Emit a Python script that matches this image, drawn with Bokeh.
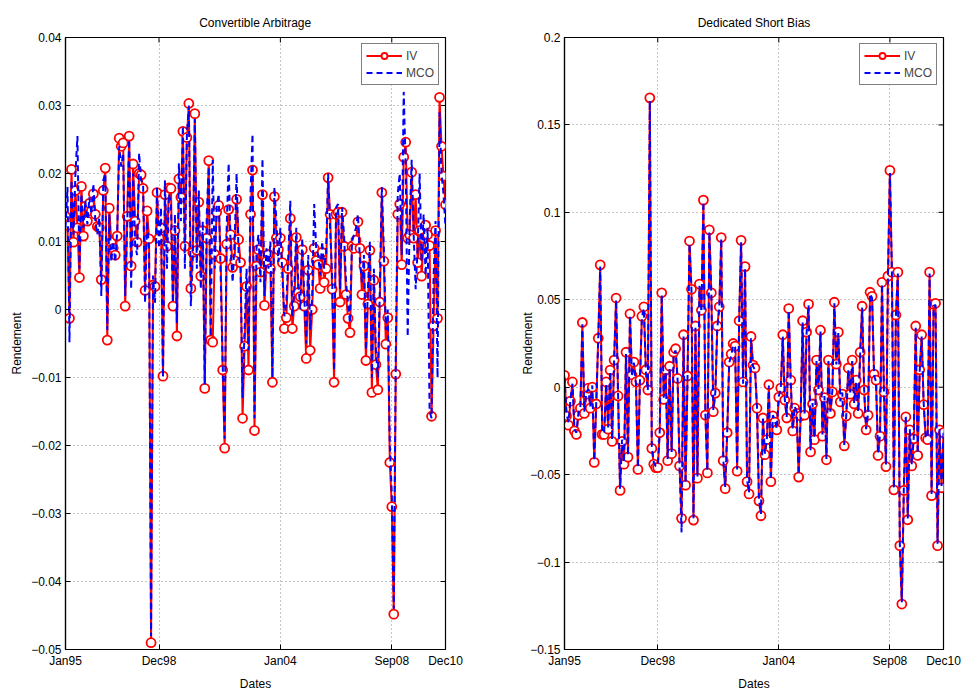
import math
from bokeh.plotting import figure
from bokeh.layouts import row
from bokeh.models import Range1d, FixedTicker, Legend, LegendItem
from bokeh.embed import file_html
from bokeh.resources import INLINE

# ---------------- data ----------------
x_tick_pos = [0, 47, 108, 164, 191]
x_tick_labels = ["Jan95", "Dec98", "Jan04", "Sep08", "Dec10"]

cva_iv = [
    0.0137, 0.0124, -0.0013, 0.0206, 0.0099, 0.0175, 0.0120, 0.0047, 0.0181, 0.0108, 0.0152, 0.0130,
    0.0156, 0.0145, 0.0170, 0.0140, 0.0122, 0.0120, 0.0044, 0.0175, 0.0208, -0.0045, 0.0149, 0.0099,
    0.0090, 0.0080, 0.0108, 0.0252, 0.0240, 0.0245, 0.0005, 0.0137, 0.0255, 0.0064, 0.0214, 0.0130,
    0.0099, 0.0200, 0.0198, 0.0178, 0.0028, 0.0145, 0.0104, -0.0490, 0.0036, 0.0034, 0.0172, 0.0105,
    0.0120, -0.0098, 0.0169, 0.0093, 0.0179, 0.0178, 0.0005, 0.0116, -0.0039, 0.0192, 0.0165, 0.0262,
    0.0093, 0.0253, 0.0303, 0.0031, 0.0084, 0.0288, 0.0087, 0.0158, 0.0049, 0.0116, -0.0116, 0.0105,
    0.0219, -0.0045, -0.0048, 0.0081, 0.0143, 0.0153, 0.0075, -0.0089, -0.0204, 0.0096, 0.0147, 0.0110,
    0.0062, 0.0072, 0.0162, 0.0103, 0.0069, -0.0160, -0.0054, 0.0034, -0.0089, 0.0140, 0.0205, -0.0178,
    0.0064, 0.0088, 0.0055, 0.0169, 0.0006, 0.0071, 0.0081, 0.0060, -0.0107, 0.0166, 0.0105, 0.0088,
    0.0105, 0.0069, -0.0028, -0.0012, 0.0060, 0.0134, -0.0028, 0.0005, 0.0106, 0.0025, 0.0019, 0.0088,
    0.0005, -0.0072, 0.0058, -0.0060, 0.0000, 0.0090, 0.0072, 0.0066, 0.0031, 0.0084, 0.0040, 0.0060,
    0.0194, 0.0140, 0.0030, -0.0107, 0.0140, 0.0143, 0.0011, 0.0143, 0.0093, 0.0022, -0.0013, -0.0034,
    0.0093, 0.0090, 0.0102, 0.0129, 0.0090, 0.0022, 0.0064, -0.0075, 0.0008, 0.0087, -0.0122, 0.0043,
    -0.0081, -0.0118, 0.0011, 0.0172, 0.0071, -0.0051, -0.0012, -0.0225, -0.0290, -0.0448, -0.0095, 0.0140,
    0.0155, 0.0066, 0.0224, 0.0246, 0.0105, 0.0110, 0.0202, 0.0105, 0.0169, 0.0069, 0.0116, 0.0049,
    0.0105, 0.0124, 0.0110, 0.0094, -0.0157, -0.0024, 0.0116, -0.0013, 0.0312, 0.0240, 0.0196, 0.0154,
]

cva_mco = [
    0.0120, 0.0180, -0.0048, 0.0190, 0.0110, 0.0200, 0.0255, 0.0060, 0.0170, 0.0120, 0.0160, 0.0125,
    0.0165, 0.0140, 0.0185, 0.0130, 0.0110, 0.0135, 0.0020, 0.0190, 0.0200, -0.0030, 0.0140, 0.0070,
    0.0100, 0.0070, 0.0115, 0.0240, 0.0210, 0.0230, 0.0020, 0.0120, 0.0250, 0.0030, 0.0200, 0.0095,
    0.0080, 0.0230, 0.0190, 0.0185, 0.0010, 0.0130, 0.0090, -0.0480, 0.0050, 0.0010, 0.0180, 0.0090,
    0.0150, -0.0100, 0.0190, 0.0060, 0.0170, 0.0155, 0.0010, 0.0140, -0.0020, 0.0215, 0.0130, 0.0270,
    0.0060, 0.0255, 0.0300, 0.0005, 0.0080, 0.0280, 0.0060, 0.0175, 0.0030, 0.0130, -0.0110, 0.0140,
    0.0210, -0.0040, 0.0220, 0.0060, 0.0150, 0.0170, 0.0050, -0.0080, -0.0190, 0.0120, 0.0215, 0.0090,
    0.0040, 0.0100, 0.0200, 0.0080, 0.0060, -0.0130, -0.0030, 0.0060, -0.0060, 0.0170, 0.0258, -0.0160,
    0.0090, 0.0110, 0.0040, 0.0222, 0.0020, 0.0090, 0.0060, 0.0100, -0.0100, 0.0180, 0.0130, 0.0070,
    0.0120, 0.0050, -0.0010, 0.0010, 0.0080, 0.0160, -0.0010, 0.0030, 0.0120, 0.0040, 0.0000, 0.0105,
    0.0020, -0.0050, 0.0080, -0.0030, 0.0020, 0.0155, 0.0090, 0.0080, 0.0050, 0.0100, 0.0060, 0.0085,
    0.0200, 0.0120, 0.0050, -0.0090, 0.0150, 0.0155, 0.0030, 0.0150, 0.0110, 0.0040, 0.0010, -0.0020,
    0.0100, 0.0110, 0.0120, 0.0140, 0.0070, 0.0040, 0.0080, -0.0060, 0.0030, 0.0100, -0.0100, 0.0060,
    -0.0060, -0.0100, 0.0030, 0.0180, 0.0090, -0.0030, 0.0000, -0.0200, -0.0270, -0.0440, -0.0070, 0.0170,
    0.0200, 0.0080, 0.0320, 0.0210, -0.0040, 0.0130, 0.0220, 0.0110, 0.0030, 0.0090, 0.0200, 0.0070,
    0.0140, 0.0050, 0.0120, -0.0150, -0.0160, 0.0050, 0.0130, -0.0100, 0.0290, 0.0200, 0.0170, 0.0120,
]

dsb_iv = [
    0.0068, -0.0164, -0.0217, -0.0080, 0.0030, -0.0250, -0.0270, -0.0160, -0.0120, 0.0370, -0.0150, -0.0040,
    -0.0005, -0.0120, 0.0000, -0.0430, -0.0096, 0.0280, 0.0700, -0.0270, -0.0270, 0.0030, -0.0240, 0.0098,
    -0.0310, 0.0155, 0.0510, -0.0050, -0.0590, -0.0310, -0.0440, 0.0200, -0.0400, 0.0420, 0.0070, 0.0144,
    0.0030, -0.0470, 0.0040, 0.0406, 0.0460, 0.0100, -0.0016, 0.1655, -0.0350, -0.0440, -0.0460, -0.0460,
    -0.0260, 0.0540, -0.0070, 0.0098, -0.0420, 0.0120, -0.0380, 0.0200, 0.0220, 0.0050, -0.0450, -0.0750,
    0.0300, -0.0560, 0.0064, 0.0836, 0.0560, -0.0760, 0.0350, -0.0520, 0.0590, 0.0440, 0.1070, -0.0160,
    -0.0490, 0.0900, 0.0540, -0.0140, -0.0034, 0.0350, 0.0460, 0.0856, -0.0420, -0.0580, -0.0260, 0.0144,
    0.0190, 0.0250, 0.0235, -0.0480, 0.0380, 0.0840, 0.0030, 0.0690, -0.0540, -0.0610, 0.0290, 0.0126,
    0.0110, -0.0120, -0.0650, -0.0735, -0.0176, -0.0386, -0.0300, 0.0014, -0.0540, -0.0164, -0.0200, -0.0244,
    -0.0057, -0.0005, 0.0300, -0.0073, -0.0176, 0.0450, 0.0040, -0.0250, -0.0120, -0.0150, -0.0514, -0.0164,
    0.0380, -0.0160, 0.0315, 0.0475, -0.0370, -0.0096, -0.0300, 0.0155, -0.0016, 0.0326, -0.0280, -0.0060,
    -0.0415, 0.0155, -0.0150, -0.0027, 0.0486, 0.0132, 0.0315, -0.0084, -0.0039, -0.0336, -0.0164, 0.0110,
    -0.0040, 0.0155, -0.0096, 0.0040, -0.0150, 0.0200, 0.0463, -0.0016, -0.0244, -0.0160, 0.0543, 0.0520,
    0.0075, 0.0040, -0.0390, -0.0280, 0.0600, -0.0027, -0.0454, 0.0635, 0.1240, 0.0658, -0.0587, 0.0413,
    0.0658, -0.0906, -0.1240, -0.0590, -0.0170, -0.0758, -0.0244, -0.0450, -0.0295, 0.0350, -0.0390, 0.0100,
    0.0300, -0.0100, -0.0290, -0.0300, 0.0658, -0.0620, 0.0475, 0.0480, -0.0906, -0.0244, -0.0575, -0.0260,
]

dsb_mco = [
    0.0060, -0.0150, -0.0200, -0.0070, 0.0020, -0.0240, -0.0260, -0.0150, -0.0110, 0.0360, -0.0140, -0.0030,
    -0.0010, -0.0110, 0.0010, -0.0420, -0.0090, 0.0270, 0.0690, -0.0260, -0.0260, 0.0020, -0.0230, 0.0090,
    -0.0300, 0.0150, 0.0500, -0.0040, -0.0580, -0.0300, -0.0430, 0.0190, -0.0390, 0.0410, 0.0060, 0.0140,
    0.0020, -0.0460, 0.0030, 0.0400, 0.0450, 0.0090, -0.0020, 0.1640, -0.0340, -0.0430, -0.0450, -0.0450,
    -0.0250, 0.0530, -0.0060, 0.0090, -0.0410, 0.0110, -0.0370, 0.0190, 0.0210, 0.0040, -0.0460, -0.0830,
    0.0290, -0.0550, 0.0060, 0.0820, 0.0550, -0.0750, 0.0340, -0.0510, 0.0580, 0.0430, 0.1060, -0.0150,
    -0.0480, 0.0890, 0.0530, -0.0130, -0.0030, 0.0340, 0.0450, 0.0850, -0.0410, -0.0570, -0.0250, 0.0140,
    0.0180, 0.0240, 0.0230, -0.0470, 0.0370, 0.0830, 0.0020, 0.0680, -0.0530, -0.0600, 0.0280, 0.0120,
    0.0100, -0.0110, -0.0640, -0.0725, -0.0170, -0.0380, -0.0290, 0.0010, -0.0530, -0.0160, -0.0190, -0.0240,
    -0.0050, -0.0010, 0.0290, -0.0070, -0.0170, 0.0440, 0.0030, -0.0240, -0.0110, -0.0140, -0.0500, -0.0160,
    0.0370, -0.0150, 0.0310, 0.0470, -0.0360, -0.0090, -0.0290, 0.0150, -0.0010, 0.0320, -0.0270, -0.0050,
    -0.0410, 0.0150, -0.0140, -0.0020, 0.0480, 0.0130, 0.0310, -0.0080, -0.0030, -0.0330, -0.0160, 0.0100,
    -0.0030, 0.0150, -0.0090, 0.0030, -0.0140, 0.0190, 0.0455, -0.0010, -0.0240, -0.0150, 0.0535, 0.0510,
    0.0070, 0.0030, -0.0380, -0.0270, 0.0590, -0.0020, -0.0445, 0.0625, 0.1225, 0.0650, -0.0580, 0.0405,
    0.0650, -0.0895, -0.1230, -0.0580, -0.0160, -0.0750, -0.0240, -0.0440, -0.0290, 0.0340, -0.0380, 0.0090,
    0.0290, -0.0090, -0.0280, -0.0290, 0.0650, -0.0610, 0.0465, 0.0470, -0.0895, -0.0240, -0.0565, -0.0255,
]

cva_yticks = [-0.05, -0.04, -0.03, -0.02, -0.01, 0.0, 0.01, 0.02, 0.03, 0.04]
cva_ylabels = ["\u22120.05", "\u22120.04", "\u22120.03", "\u22120.02", "\u22120.01", "0", "0.01", "0.02", "0.03", "0.04"]
dsb_yticks = [-0.15, -0.1, -0.05, 0.0, 0.05, 0.1, 0.15, 0.2]
dsb_ylabels = ["\u22120.15", "\u22120.1", "\u22120.05", "0", "0.05", "0.1", "0.15", "0.2"]

FONT = "Liberation Sans"


def make_panel(title, iv, mco, ylo, yhi, yticks, ylabels, left, right, fw, ylab_standoff):
    x = list(range(len(iv)))
    xmax = len(iv) - 1
    p = figure(frame_width=fw, frame_height=612,
               x_range=Range1d(0, xmax), y_range=Range1d(ylo, yhi),
               output_backend="svg", toolbar_location=None,
               min_border_left=left, min_border_right=right,
               min_border_top=37, min_border_bottom=46,
               background_fill_color="white", border_fill_color="white")
    p.outline_line_color = "black"
    p.outline_line_width = 1.2

    p.title.text = title
    p.title.align = "center"
    p.title.text_font = FONT
    p.title.text_font_size = "12px"
    p.title.text_font_style = "normal"
    p.title.text_color = "black"
    p.title.standoff = 16

    # grids
    p.xgrid.ticker = FixedTicker(ticks=x_tick_pos)
    p.ygrid.ticker = FixedTicker(ticks=yticks)
    for g in (p.xgrid, p.ygrid):
        g.grid_line_color = "#8a8a8a"
        g.grid_line_dash = "1 3"
        g.grid_line_width = 1

    # main axes
    xa = p.xaxis[0]
    xa.ticker = FixedTicker(ticks=x_tick_pos)
    xa.major_label_overrides = {k: v for k, v in zip(x_tick_pos, x_tick_labels)}
    xa.axis_label = "Dates"
    ya = p.yaxis[0]
    ya.ticker = FixedTicker(ticks=yticks)
    ya.major_label_overrides = {k: v for k, v in zip(yticks, ylabels)}
    ya.axis_label = "Rendement"
    for a in (xa, ya):
        a.major_tick_in = 5
        a.major_tick_out = 0
        a.minor_tick_in = 0
        a.minor_tick_out = 0
        a.axis_line_color = "black"
        a.axis_line_width = 1.2
        a.major_tick_line_color = "black"
        a.major_label_text_font = FONT
        a.major_label_text_font_size = "12px"
        a.major_label_text_color = "black"
        a.axis_label_text_font = FONT
        a.axis_label_text_font_size = "12px"
        a.axis_label_text_font_style = "normal"
        a.axis_label_text_color = "black"
        a.major_label_standoff = 4
    xa.axis_label_standoff = 6
    ya.axis_label_standoff = ylab_standoff

    # inward ticks on the top and right edges of the box (clipped to the frame)
    p.scatter(x_tick_pos, [yhi] * len(x_tick_pos), marker="dash", size=10,
              angle=math.pi / 2, line_color="black", line_width=1)
    p.scatter([xmax] * len(yticks), yticks, marker="dash", size=10,
              line_color="black", line_width=1)

    r_line = p.line(x, iv, line_color="#ff0000", line_width=2)
    r_mark = p.scatter(x, iv, marker="circle", size=9, line_color="#ff0000",
                       fill_color="white", line_width=1.8)
    r_mco = p.line(x, mco, line_color="#0000ff", line_width=2, line_dash="6 4")

    legend = Legend(items=[LegendItem(label="IV", renderers=[r_line, r_mark]),
                           LegendItem(label="MCO", renderers=[r_mco])],
                    location="top_right", margin=6, padding=4, spacing=2,
                    glyph_width=36, glyph_height=15, label_height=15,
                    label_standoff=4, label_text_font=FONT, label_text_font_size="12px",
                    border_line_color="black", border_line_width=1,
                    background_fill_color="white", background_fill_alpha=1.0)
    p.add_layout(legend)
    return p


p1 = make_panel("Convertible Arbitrage", cva_iv, cva_mco, -0.05, 0.04,
                cva_yticks, cva_ylabels, 65, 37, 380, 4)
p2 = make_panel("Dedicated Short Bias", dsb_iv, dsb_mco, -0.15, 0.2,
                dsb_yticks, dsb_ylabels, 82, 22, 379, -8)

layout = row(p1, p2)
open("out.html", "w").write(file_html(layout, INLINE))
